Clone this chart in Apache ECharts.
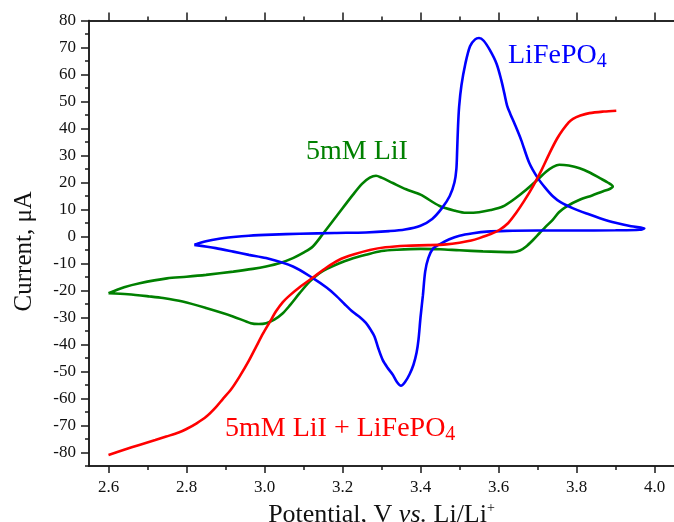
<!DOCTYPE html>
<html><head><meta charset="utf-8">
<script src="https://cdn.jsdelivr.net/npm/echarts@6/dist/echarts.min.js"></script>
<style>html,body{margin:0;padding:0;background:#fff}#c{width:674px;height:522px}</style>
</head><body><div id="c"></div>
<script>
// ---- tick values ----
const xLabelTicks = [2.6, 2.8, 3.0, 3.2, 3.4, 3.6, 3.8, 4.0];
const xMinorTicks = [2.7, 2.9, 3.1, 3.3, 3.5, 3.7, 3.9];
const yLabelTicks = [-80, -70, -60, -50, -40, -30, -20, -10, 0, 10, 20, 30, 40, 50, 60, 70, 80];
const yMinorTicks = [-85, -75, -65, -55, -45, -35, -25, -15, -5, 5, 15, 25, 35, 45, 55, 65, 75];

// ---- LiFePO4 (blue) ----
const blueV = [2.82,2.85,2.88,2.92,2.96,3.02,3.09,3.18,3.26,3.32,3.36,3.40,3.43,3.455,3.475,3.487,3.492,3.494,3.496,3.499,3.505,3.515,3.527,3.54,3.55,3.562,3.578,3.595,3.607,3.615,3.622,3.63,3.642,3.658,3.679,3.70,3.72,3.74,3.76,3.79,3.83,3.86,3.90,3.94,3.974,
  3.962,3.90,3.79,3.70,3.62,3.57,3.535,3.50,3.474,3.45,3.432,3.42,3.412,3.406,3.400,3.395,3.39,3.382,3.372,3.36,3.35,3.34,3.329,3.315,3.303,3.292,3.282,3.272,3.26,3.244,3.227,3.205,3.184,3.16,3.124,3.073,3.004,2.96,2.92,2.875,2.82];
const blueI = [-3.1,-1.8,-0.9,-0.2,0.3,0.7,1.0,1.3,1.5,2.0,2.6,4.0,6.5,10.5,15,20,25,32,40,48,56,64,70.5,73,73.5,72.5,69,64,58,53,48.5,45.5,41.5,35.8,27.2,21.8,18,14.8,12.6,10.5,8.3,6.8,5.1,3.8,3.0,
  2.5,2.3,2.2,2.2,2.1,1.8,1.2,0.3,-1.0,-2.8,-4.5,-8,-13,-22,-30,-38,-43,-47.5,-51,-54,-55.3,-54,-51.2,-48.5,-45.7,-41.5,-37,-34.5,-32,-29.8,-28,-25,-22,-19,-15.4,-11.1,-8.0,-6.8,-5.6,-4.3,-3.1];

// ---- 5mM LiI (green) ----
const greenV = [2.6,2.64,2.68,2.75,2.80,2.85,2.92,2.97,3.004,3.04,3.073,3.10,3.124,3.15,3.184,3.227,3.25,3.27,3.286,3.30,3.329,3.363,3.40,3.449,3.49,3.517,3.55,3.58,3.611,3.64,3.671,3.70,3.722,3.74,3.756,3.78,3.808,3.835,3.86,3.88,3.893,
  3.885,3.867,3.84,3.808,3.774,3.755,3.739,3.72,3.705,3.688,3.671,3.655,3.635,3.60,3.56,3.50,3.45,3.40,3.34,3.30,3.26,3.22,3.192,3.16,3.141,3.115,3.09,3.065,3.047,3.025,3.004,2.985,2.965,2.919,2.85,2.79,2.74,2.705,2.65,2.6];
const greenI = [-21,-18.8,-17.3,-15.5,-14.9,-14.2,-13,-12,-11.1,-9.8,-8,-6,-3.7,1.0,7.4,15.5,19.5,21.8,22.5,21.8,19.8,17.5,15.5,11.3,9.5,8.8,9,9.8,11.1,13.8,17.3,21,24,25.8,26.6,26.3,25.3,23.6,21.6,20,18.5,
  17.6,16.7,15.2,13.6,11.1,9,6.2,3.5,1.2,-1.4,-3.7,-5.2,-5.8,-5.7,-5.5,-5.1,-4.7,-4.6,-4.9,-5.4,-6.8,-8.4,-9.9,-12,-13.6,-16.8,-21,-25.5,-28.4,-30.8,-32.1,-32.4,-32.1,-29.6,-26.5,-24.1,-22.8,-22.2,-21.4,-21];

// ---- 5mM LiI + LiFePO4 (red) ----
const redV = [2.6,2.64,2.679,2.72,2.748,2.78,2.80,2.826,2.851,2.875,2.893,2.915,2.936,2.96,2.979,2.996,3.013,3.03,3.047,3.064,3.09,3.124,3.16,3.192,3.23,3.27,3.31,3.363,3.42,3.466,3.50,3.53,3.551,3.58,3.603,3.625,3.645,3.665,3.688,3.71,3.731,3.75,3.765,3.78,3.791,3.81,3.833,3.87,3.902];
const redI = [-80.9,-79,-77.2,-75.4,-74.1,-72.6,-71.3,-69.2,-66.7,-63.3,-60.2,-56.5,-51.9,-46,-40.7,-36,-31.8,-27.6,-24.3,-21.9,-18.8,-15.2,-11.4,-8.6,-6.6,-5.0,-4.0,-3.4,-3.2,-2.9,-2.3,-1.5,-0.6,0.9,2.5,5,8.7,13,18.5,24.5,30.9,36.2,39.5,42.3,43.6,44.8,45.7,46.3,46.6];

const FONT = "'Liberation Serif','Times New Roman',serif";
const AX = '#1a1a1a';
const XMIN = 2.55, XMAX = 4.05, YMIN = -85, YMAX = 80;
const zip = (a, b) => a.map((v, i) => [v, b[i]]);

function xAx(pos, ticks, len, labels) {
  return {
    type: 'value', position: pos, min: XMIN, max: XMAX,
    axisLine: { show: true, onZero: false, lineStyle: { color: AX, width: 1.5 } },
    axisTick: { show: true, inside: false, length: len, customValues: ticks, lineStyle: { color: AX, width: 1.5 } },
    axisLabel: labels ? { show: true, customValues: xLabelTicks, formatter: v => v.toFixed(1), fontFamily: FONT, fontSize: 17, color: '#111', margin: 13 } : { show: false },
    splitLine: { show: false }, minorTick: { show: false }
  };
}
function yAx(ticks, len, labels) {
  return {
    type: 'value', position: 'left', min: YMIN, max: YMAX,
    axisLine: { show: true, onZero: false, lineStyle: { color: AX, width: 1.5 } },
    axisTick: { show: true, inside: false, length: len, customValues: ticks, lineStyle: { color: AX, width: 1.5 } },
    axisLabel: labels ? { show: true, customValues: yLabelTicks, fontFamily: FONT, fontSize: 17, color: '#111', margin: 13 } : { show: false },
    splitLine: { show: false }, minorTick: { show: false }
  };
}

const xMain = xAx('bottom', xLabelTicks, 7, true);
xMain.name = '{a|Potential, V }{i|vs.}{a| Li/Li}{s|+}';
xMain.nameLocation = 'middle';
xMain.nameGap = 31;
xMain.nameTextStyle = {
  fontFamily: FONT, color: '#111',
  rich: {
    a: { fontFamily: FONT, fontSize: 26, color: '#111', lineHeight: 28, verticalAlign: 'middle' },
    i: { fontFamily: FONT, fontSize: 26, color: '#111', fontStyle: 'italic', lineHeight: 28, verticalAlign: 'middle' },
    s: { fontFamily: FONT, fontSize: 14, color: '#111', lineHeight: 14, verticalAlign: 'top' }
  }
};
const yMain = yAx(yLabelTicks, 8, true);
yMain.name = 'Current, μA';
yMain.nameLocation = 'middle';
yMain.nameRotate = 90;
yMain.nameGap = 52;
yMain.nameTextStyle = { fontFamily: FONT, fontSize: 25, color: '#111', padding: [0, 16, 0, 0] };

function lineSeries(name, v, i, color) {
  return {
    name, type: 'line', xAxisIndex: 0, yAxisIndex: 0, data: zip(v, i),
    showSymbol: false, symbol: 'none', smooth: 0.3, clip: false,
    lineStyle: { color, width: 2.6 }, itemStyle: { color }, z: 3
  };
}

const chart = echarts.init(document.getElementById('c'), null, { renderer: 'canvas' });
chart.setOption({
  backgroundColor: '#fff',
  animation: false,
  grid: { left: 89, top: 20.5, right: 0, bottom: 56, containLabel: false, outerBoundsMode: 'none' },
  xAxis: [xMain, xAx('bottom', xMinorTicks, 4, false), xAx('top', xLabelTicks, 8, false), xAx('top', xMinorTicks, 4, false)],
  yAxis: [yMain, yAx(yMinorTicks, 4, false)],
  series: [
    lineSeries('5mM LiI', greenV, greenI, '#008000'),
    lineSeries('LiFePO4', blueV, blueI, '#0000ff'),
    lineSeries('5mM LiI + LiFePO4', redV, redI, '#ff0000')
  ],
  graphic: [
    { type: 'text', left: 508, top: 42, z: 50, style: { text: '{a|LiFePO}{b|4}', rich: {
      a: { fontFamily: FONT, fontSize: 28, fill: '#0000ff', lineHeight: 31, verticalAlign: 'middle' },
      b: { fontFamily: FONT, fontSize: 20, fill: '#0000ff', lineHeight: 18, verticalAlign: 'bottom' } } } },
    { type: 'text', left: 306, top: 138, z: 50, style: { text: '{a|5mM LiI}', rich: {
      a: { fontFamily: FONT, fontSize: 28, fill: '#008000', lineHeight: 31, verticalAlign: 'middle' } } } },
    { type: 'text', left: 225, top: 415, z: 50, style: { text: '{a|5mM LiI + LiFePO}{b|4}', rich: {
      a: { fontFamily: FONT, fontSize: 28, fill: '#ff0000', lineHeight: 31, verticalAlign: 'middle' },
      b: { fontFamily: FONT, fontSize: 20, fill: '#ff0000', lineHeight: 18, verticalAlign: 'bottom' } } } }
  ]
});
</script></body></html>
